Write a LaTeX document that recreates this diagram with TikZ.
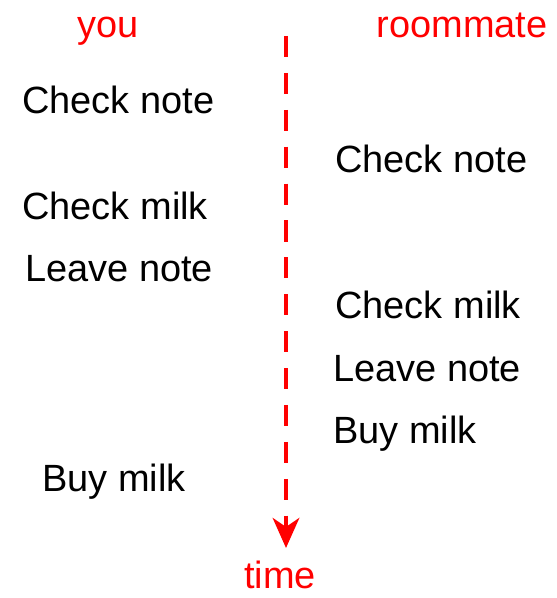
\documentclass[tikz,border=0pt]{standalone}
\usepackage{fontspec}
\setmainfont{Liberation Sans}
\usepackage{xcolor}
\usetikzlibrary{arrows.meta,positioning}
\definecolor{labelred}{RGB}{255,0,0}
\tikzset{
  step text/.style={anchor=base west, inner sep=0pt, font=\fontsize{21.6}{26}\selectfont, text=black},
  who/.style={anchor=base, inner sep=0pt, font=\fontsize{21.6}{26}\selectfont, text=labelred},
  timearrow/.style={draw=labelred, line width=2.8pt, dash pattern=on 12pt off 9pt,
    -{Stealth[length=17pt, width=15pt, inset=5pt]}},
}

\begin{document}
\begin{tikzpicture}[x=0.02cm, y=-0.02cm]
  \useasboundingbox (0,0) rectangle (556,598);

  % Column headings
  \node[who] (you) at (108,38) {you};
  \node[who] (roommate) at (462,38) {roommate};

  % Time axis
  \coordinate (start) at (286,36);
  \coordinate (tip) at (286,548);
  \draw[timearrow] (start) -- (tip);
  \node[who] (time) at (280,588) {time};

  % Your steps
  \foreach \i/\x/\y/\txt in {1/22/113/Check note, 2/22/219/Check milk, 3/25/281/Leave note, 4/42/491/Buy milk} {
    \node[step text] (you-\i) at (\x,\y) {\txt};
  }

  % Roommate's steps
  \foreach \i/\x/\y/\txt in {1/335/172/Check note, 2/335/318/Check milk, 3/333/381/Leave note, 4/333/443/Buy milk} {
    \node[step text] (mate-\i) at (\x,\y) {\txt};
  }

\end{tikzpicture}
\end{document}
